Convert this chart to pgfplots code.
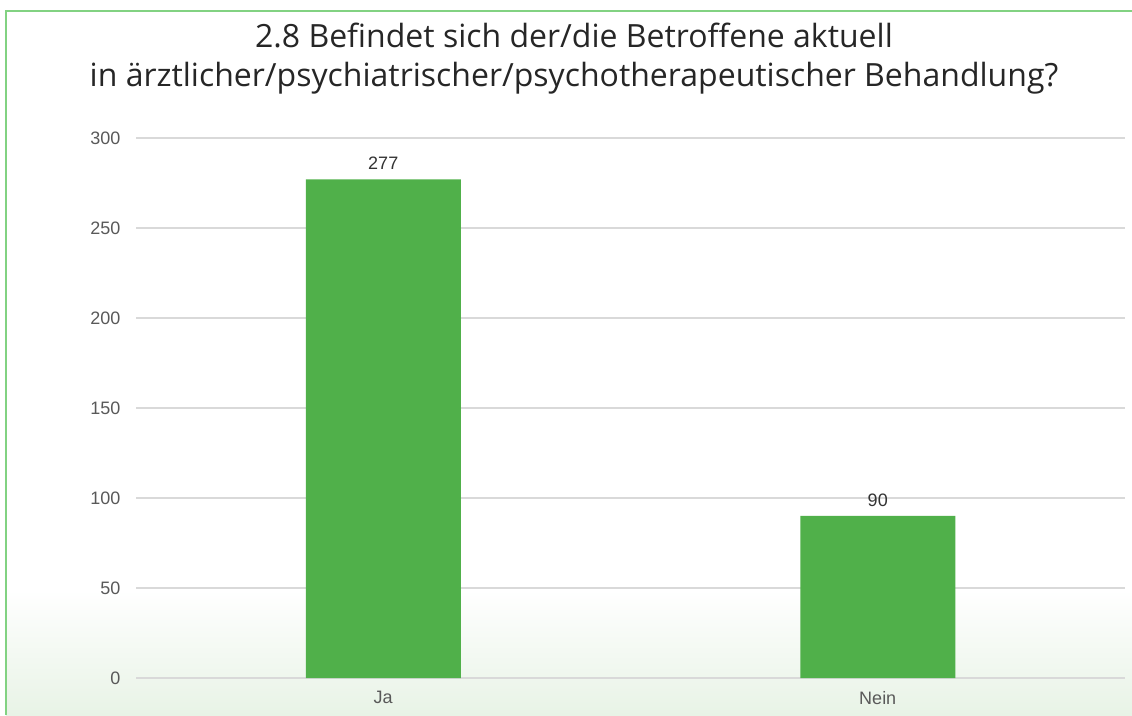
\documentclass[border=0pt]{standalone}
\usepackage{pgfplots}
\pgfplotsset{compat=1.18}
\usepackage{fontspec}
\setmainfont{Liberation Sans}
\newfontfamily\titlefont{Open Sans}
\definecolor{barg}{RGB}{80,176,74}
\definecolor{bgg}{RGB}{232,243,230}
\definecolor{framec}{RGB}{130,210,130}
\definecolor{gridc}{RGB}{217,217,217}
\definecolor{tickc}{RGB}{89,89,89}
\definecolor{titlec}{RGB}{38,38,38}
\begin{document}
\begin{tikzpicture}[x=1pt,y=1pt]
\path[use as bounding box] (0,0) rectangle (1132,715);
\shade[top color=white, bottom color=bgg] (6,0) rectangle (1132,125);
\draw[framec, line width=1.5pt] (6,0) -- (6,704) -- (1132,704);
\node[anchor=base, align=center, font=\titlefont\fontsize{32}{39}\selectfont, text=titlec] at (574,667) {2.8 Befindet sich der/die Betroffene aktuell};
\node[anchor=base, align=center, font=\titlefont\fontsize{32}{39}\selectfont, text=titlec] at (574,628) {in ärztlicher/psychiatrischer/psychotherapeutischer Behandlung?};
\begin{axis}[
  at={(136pt,37pt)}, anchor=south west, scale only axis,
  width=989pt, height=540pt,
  xmin=-0.5, xmax=1.5, ymin=0, ymax=300,
  ytick={0,50,...,300},
  xtick={0,1}, xticklabels={Ja,Nein},
  ymajorgrids, grid style={gridc, line width=1.3pt},
  axis line style={draw=none},
  major tick length=0pt,
  /pgf/number format/assume math mode=true,
  tick label style={font=\fontsize{18}{21}\selectfont, text=tickc},
  yticklabel style={xshift=-12pt},
  xticklabel style={yshift=-10pt},
  ybar, bar width=155pt,
  nodes near coords,
  every node near coord/.append style={font=\fontsize{18}{21}\selectfont, text=black!80, yshift=6pt},
  clip=false,
]
\addplot[fill=barg, draw=none] coordinates {(0,277) (1,90)};
\end{axis}
\end{tikzpicture}
\end{document}
